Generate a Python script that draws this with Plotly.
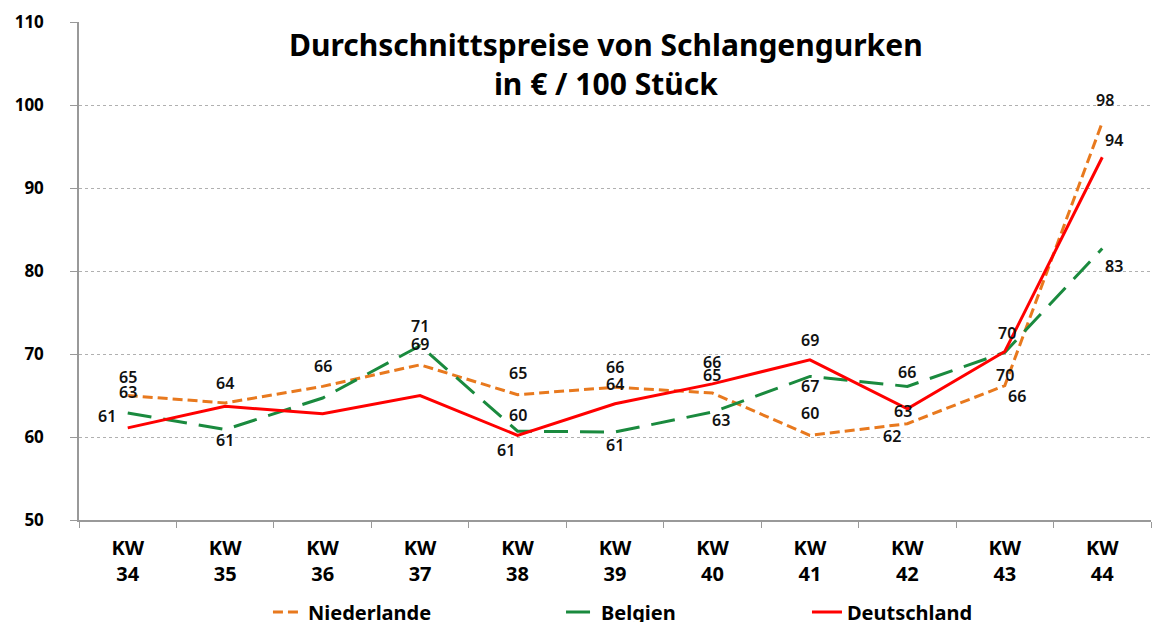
import plotly.graph_objects as go

categories = ["KW<br>34", "KW<br>35", "KW<br>36", "KW<br>37", "KW<br>38", "KW<br>39",
              "KW<br>40", "KW<br>41", "KW<br>42", "KW<br>43", "KW<br>44"]
niederlande = [65.0, 64.1, 66.1, 68.7, 65.1, 66.0, 65.3, 60.2, 61.6, 66.2, 97.9]
belgien = [62.9, 60.9, 64.7, 71.0, 60.7, 60.6, 63.0, 67.3, 66.1, 70.2, 82.7]
deutschland = [61.1, 63.7, 62.8, 65.0, 60.2, 64.0, 66.4, 69.3, 63.4, 70.3, 93.7]

# label offsets (xshift, yshift) in px; None = no label shown
nl_off = [(0, 19), (0, 20), (0, 20), (0, 21), (0, 22), (0, 20), (0, 18), (0, 22), (-15, -12), (12, -10), (3, 22)]
be_off = [(0, 21), (0, -10), None, (0, 20), (-12, -19), (0, -13), (9, -8), (0, -10), (0, 14), (0, -23), (12, -17)]
de_off = [(-21, 12), None, None, None, (0, 20), (0, 20), (0, 22), (0, 20), (-4, -2), (2, 19), (12, 17)]

ORANGE = "#E8791E"
GREEN = "#1A8A3E"
RED = "#FF0000"

fig = go.Figure()
fig.add_trace(go.Scatter(x=categories, y=niederlande, name="Niederlande", mode="lines", legend="legend",
                         line=dict(color=ORANGE, width=3, dash="10px,5px")))
fig.add_trace(go.Scatter(x=categories, y=belgien, name="Belgien", mode="lines", legend="legend2",
                         line=dict(color=GREEN, width=3, dash="24px,12px")))
fig.add_trace(go.Scatter(x=categories, y=deutschland, name="Deutschland", mode="lines", legend="legend3",
                         line=dict(color=RED, width=3)))

annotations = []
for vals, offs in [(niederlande, nl_off), (belgien, be_off), (deutschland, de_off)]:
    for c, v, o in zip(categories, vals, offs):
        if o is None:
            continue
        annotations.append(dict(x=c, y=v, xref="x", yref="y", text=f"{v:.0f}", showarrow=False,
                                xshift=o[0], yshift=o[1],
                                font=dict(family="Noto Sans", size=16, color="#111", weight=600)))

annotations.append(dict(x=0.492, y=0.916, xref="paper", yref="paper",
                        text="Durchschnittspreise von Schlangengurken<br>in € / 100 Stück",
                        showarrow=False, xanchor="center", yanchor="middle",
                        font=dict(family="Noto Sans", size=30, color="#000", weight="bold")))

legend_font = dict(family="Noto Sans", size=20, color="#000", weight="bold")


def leg(xpos):
    return dict(orientation="h", xref="container", yref="container", x=xpos, y=0.016,
                xanchor="left", yanchor="middle", font=legend_font)


fig.update_layout(
    width=1152, height=622,
    margin=dict(l=79, r=1, t=22, b=102),
    paper_bgcolor="white", plot_bgcolor="white",
    showlegend=True,
    legend=leg(0.2326),
    legend2=leg(0.4870),
    legend3=leg(0.7005),
    annotations=annotations,
    xaxis=dict(range=[-0.5, 10.5], showline=True, linecolor="#999", linewidth=1.5, ticks="outside",
               tickson="boundaries", ticklen=6, tickcolor="#999", showgrid=False, automargin=False,
               ticklabelstandoff=9,
               tickfont=dict(family="Noto Sans", size=20, color="#000", weight="bold")),
    yaxis=dict(range=[50, 110], dtick=10, showline=True, linecolor="#999", linewidth=1.5,
               ticks="outside", ticklen=7, tickcolor="#999", ticklabelstandoff=23, automargin=False,
               showgrid=True, gridcolor="#b0b0b0", griddash="dot", gridwidth=1, zeroline=False,
               tickfont=dict(family="Noto Sans", size=17, color="#000", weight="bold")),
)

fig.write_html("out.html", config={"displayModeBar": False},
               post_script="document.body.style.margin='0';document.body.style.overflow='hidden';")
